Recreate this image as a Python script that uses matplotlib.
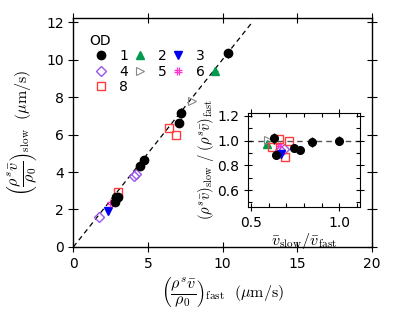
import matplotlib
matplotlib.use("Agg")
import matplotlib.pyplot as plt
from matplotlib.lines import Line2D
from matplotlib.path import Path
from matplotlib.ticker import MultipleLocator

plt.rcParams['mathtext.fontset'] = 'cm'
plt.rcParams['font.size'] = 10

# ---- main panel data ----
od1_x = [10.35, 7.20, 7.10, 4.72, 4.50, 3.00, 2.85, 2.78]
od1_y = [10.33, 7.14, 6.62, 4.66, 4.32, 2.69, 2.66, 2.39]
od1_yerr = [0.25, 0.25, 0.15, 0.1, 0.1, 0.12, 0.1, 0.1]
od2_x = [9.52]; od2_y = [9.38]; od2_err = [0.2]
od3_x = [2.30]; od3_y = [1.94]
od4_x = [1.75, 4.20, 4.07]; od4_y = [1.60, 3.90, 3.78]
od5_x = [7.93]; od5_y = [7.80]
od6_x = [2.55]; od6_y = [2.33]
od8_x = [2.97, 6.43, 6.88]; od8_y = [2.91, 6.37, 5.95]

# ---- inset data ----
in1_x = [1.0, 0.843, 0.777, 0.745, 0.64, 0.633]
in1_y = [1.0, 0.99, 0.925, 0.94, 0.887, 1.02]
in1_yerr = [0.035, 0.04, 0.035, 0.02, 0.02, 0.045]
in2_x = [0.594]; in2_y = [0.973]
in3_x = [0.67]; in3_y = [0.892]; in3_err = [0.02]
in4_x = [0.689, 0.664]; in4_y = [0.935, 0.927]
in5_x = [0.598]; in5_y = [1.005]
in6_x = [0.658]; in6_y = [0.962]
in8_x = [0.619, 0.658, 0.713, 0.692]; in8_y = [0.946, 1.014, 0.994, 0.865]

od_labels = ['1', '2', '3', '4', '5', '6', '8']

C_GREEN = '#009a4e'
C_BLUE = '#0000ee'
C_PURPLE = '#9a55e8'
C_GRAY = '#888888'
C_MAG = '#ff33cc'
C_RED = '#ff3b3b'

# hash marker made of four strokes
_hv = [(-0.35, -1), (-0.35, 1), (0.35, -1), (0.35, 1),
       (-1, -0.35), (1, -0.35), (-1, 0.35), (1, 0.35)]
_hc = [Path.MOVETO, Path.LINETO] * 4
HASH = Path(_hv, _hc)

fig = plt.figure(figsize=(4.15, 3.24), dpi=100)
ax = fig.add_axes([0.1767, 0.2377, 0.719, 0.7058])

def draw(a, ms, d1, d2, d3, d4, d5, d6, d8):
    x1, y1, e1 = d1
    a.errorbar(x1, y1, yerr=e1, fmt='o', color='black', ms=ms, elinewidth=1, capsize=0, zorder=5)
    x2, y2, e2 = d2
    if e2 is not None:
        a.errorbar(x2, y2, xerr=e2, yerr=e2, fmt='^', color=C_GREEN, ms=ms, elinewidth=1, capsize=0, zorder=4)
    else:
        a.plot(x2, y2, '^', color=C_GREEN, ms=ms, zorder=4)
    x3, y3, e3 = d3
    if e3 is not None:
        a.errorbar(x3, y3, xerr=e3, yerr=e3, fmt='v', color=C_BLUE, ms=ms, elinewidth=1, capsize=0, zorder=4)
    else:
        a.plot(x3, y3, 'v', color=C_BLUE, ms=ms, zorder=4)
    a.plot(d4[0], d4[1], 'D', mfc='none', mec=C_PURPLE, ms=ms * 0.85, mew=1, ls='none', zorder=4)
    a.plot(d5[0], d5[1], '>', mfc='none', mec=C_GRAY, ms=ms, mew=0.8, ls='none', zorder=4)
    a.plot(d6[0], d6[1], marker=HASH, mfc='none', mec=C_MAG, ms=ms * 0.9, mew=0.9, ls='none', zorder=4)
    a.plot(d8[0], d8[1], 's', mfc='none', mec=C_RED, ms=ms, mew=1, ls='none', zorder=4)

ax.plot([0, 12], [0, 12], ls=(0, (4, 3)), color='black', lw=0.9, zorder=2)
draw(ax, 6,
     (od1_x, od1_y, od1_yerr), (od2_x, od2_y, od2_err), (od3_x, od3_y, None),
     (od4_x, od4_y), (od5_x, od5_y), (od6_x, od6_y), (od8_x, od8_y))

ax.set_xlim(0, 20)
ax.set_ylim(0, 12.2)
ax.xaxis.set_major_locator(MultipleLocator(5))
ax.yaxis.set_major_locator(MultipleLocator(2))
ax.tick_params(direction='inout', length=7, width=0.8, top=True, right=True, labelsize=10)
for s in ax.spines.values():
    s.set_linewidth(1.0)

ax.set_xlabel(r'$\left(\dfrac{\rho^s\bar{v}}{\rho_0}\right)_{\rm fast}\ \ (\mu{\rm m/s})$', fontsize=11.5)
ax.set_ylabel(r'$\left(\dfrac{\rho^s\bar{v}}{\rho_0}\right)_{\rm slow}\ \ (\mu{\rm m/s})$', fontsize=11.5)

# legend
ms = 6
h1 = Line2D([], [], marker='o', color='black', ls='none', ms=ms)
h2 = Line2D([], [], marker='^', color=C_GREEN, ls='none', ms=ms)
h3 = Line2D([], [], marker='v', color=C_BLUE, ls='none', ms=ms)
h4 = Line2D([], [], marker='D', mfc='none', mec=C_PURPLE, ls='none', ms=ms * 0.85)
h5 = Line2D([], [], marker='>', mfc='none', mec=C_GRAY, ls='none', ms=ms, mew=0.8)
h6 = Line2D([], [], marker=HASH, mfc='none', mec=C_MAG, ls='none', ms=ms * 0.9, mew=0.9)
h8 = Line2D([], [], marker='s', mfc='none', mec=C_RED, ls='none', ms=ms)
handles = [h1, h4, h8, h2, h5, h3, h6]
labels = [od_labels[0], od_labels[3], od_labels[6], od_labels[1], od_labels[4], od_labels[2], od_labels[5]]
leg = ax.legend(handles, labels, title='OD', ncol=3, frameon=False, loc='upper left',
                bbox_to_anchor=(0.025, 0.968), fontsize=10, title_fontsize=10,
                handlelength=1.7, handletextpad=0.45, columnspacing=0.0,
                labelspacing=0.1, alignment='left', borderaxespad=0.2)

# inset
ins = fig.add_axes([0.598, 0.362, 0.2694, 0.288])
ins.axhline(1.0, ls=(0, (4, 3)), color='#555555', lw=1.0, zorder=1)
draw(ins, 5.5,
     (in1_x, in1_y, in1_yerr), (in2_x, in2_y, None), (in3_x, in3_y, in3_err),
     (in4_x, in4_y), (in5_x, in5_y), (in6_x, in6_y), (in8_x, in8_y))
ins.set_xlim(0.485, 1.117)
ins.set_ylim(0.465, 1.22)
ins.xaxis.set_major_locator(MultipleLocator(0.5))
ins.xaxis.set_minor_locator(MultipleLocator(0.1))
ins.yaxis.set_major_locator(MultipleLocator(0.2))
ins.yaxis.set_minor_locator(MultipleLocator(0.1))
ins.tick_params(which='major', direction='inout', length=6, width=0.8, top=True, right=True, labelsize=10)
ins.tick_params(which='minor', direction='in', length=3, width=0.8, top=True, right=True)
ins.set_xlabel(r'$\bar{v}_{\rm slow}/\bar{v}_{\rm fast}$', fontsize=11.5, labelpad=1)
ins.set_ylabel(r'$(\rho^s\bar{v})_{\rm slow}\ /\ (\rho^s\bar{v})_{\rm fast}$', fontsize=10.5, labelpad=1)

fig.savefig('out.png', dpi=100)
